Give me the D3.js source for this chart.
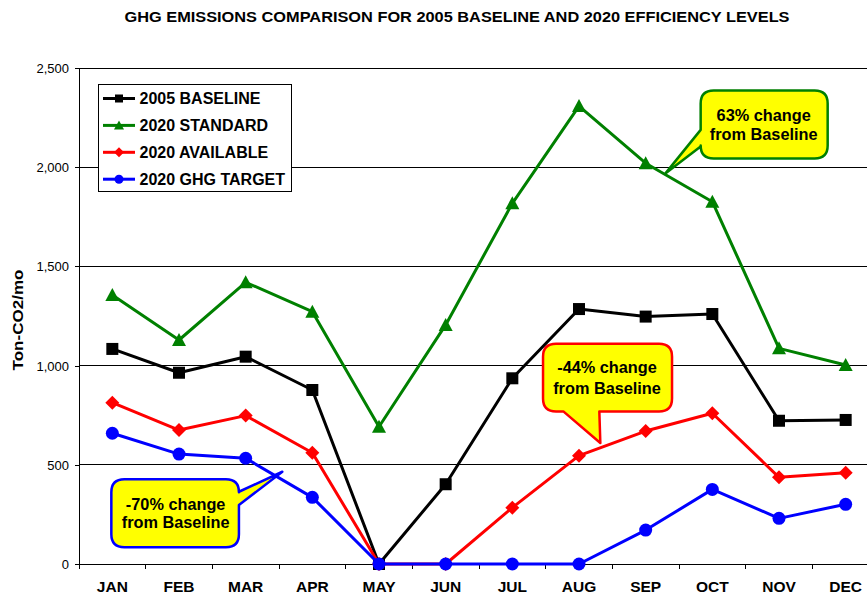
<!DOCTYPE html>
<html><head><meta charset="utf-8">
<script src="https://cdn.jsdelivr.net/npm/d3@7"></script>
<style>
html,body{margin:0;padding:0;background:#fff;overflow:hidden;}
text{font-family:Arial,"Liberation Sans",sans-serif;}
</style></head>
<body><svg id="c" width="867" height="599"></svg>
<script>
const months = ["JAN","FEB","MAR","APR","MAY","JUN","JUL","AUG","SEP","OCT","NOV","DEC"];
const baseline2005 = [1084, 964, 1045, 877, 0, 402, 936, 1285, 1247, 1260, 722, 726];
const standard2020 = [1356, 1129, 1420, 1272, 692, 1205, 1818, 2308, 2020, 1826, 1087, 1003];
const available2020 = [813, 675, 748, 561, 0, 0, 284, 546, 670, 760, 437, 460];
const target2020 = [659, 554, 533, 336, 0, 0, 0, 0, 171, 376, 230, 301];
const yTicks = [0, 500, 1000, 1500, 2000, 2500];
const seriesNames = ["2005 BASELINE","2020 STANDARD","2020 AVAILABLE","2020 GHG TARGET"];
const callouts = [
  {lines:["63% change","from Baseline"], month:8.3, value:1970},
  {lines:["-44% change","from Baseline"], month:7.32, value:610},
  {lines:["-70% change","from Baseline"], month:2.55, value:465}
];

const series = [
  {name:seriesNames[0], values:baseline2005, color:"#000000", marker:"square"},
  {name:seriesNames[1], values:standard2020, color:"#008000", marker:"triangle"},
  {name:seriesNames[2], values:available2020, color:"#ff0000", marker:"diamond"},
  {name:seriesNames[3], values:target2020, color:"#0000ff", marker:"circle"}
];

const svg = d3.select("#c");
const L = 79, R = 879, T = 68, B = 564;
const x = d3.scaleBand().domain(months).range([L, R]).padding(0);
const xc = m => x(m) + x.bandwidth()/2;
const xi = i => x(months[0]) + x.bandwidth()*(i+0.5);
const y = d3.scaleLinear().domain([0, 2500]).range([B, T]);

// title
svg.append("text").attr("x", 457).attr("y", 22).attr("text-anchor","middle")
  .attr("font-weight","bold").attr("font-size", 14).attr("textLength", 665).attr("lengthAdjust","spacingAndGlyphs")
  .text("GHG EMISSIONS COMPARISON FOR 2005 BASELINE AND 2020 EFFICIENCY LEVELS");

// gridlines
svg.append("g").selectAll("line").data(yTicks.filter(d=>d>0)).join("line")
  .attr("x1", L).attr("x2", R).attr("y1", d=>y(d)).attr("y2", d=>y(d))
  .attr("stroke","#000").attr("stroke-width",1).attr("shape-rendering","crispEdges");

// y axis
const yAx = svg.append("g").attr("transform",`translate(${L},0)`)
  .call(d3.axisLeft(y).tickValues(yTicks).tickFormat(d3.format(",")).tickSize(4).tickSizeOuter(0));
yAx.select(".domain").attr("stroke","#000").attr("shape-rendering","crispEdges");
yAx.selectAll("text").attr("font-size",13).attr("font-family","Arial, 'Liberation Sans', sans-serif").attr("fill","#000").attr("x",-10).attr("dy","0.35em");
yAx.selectAll("line").attr("shape-rendering","crispEdges");

// x axis
const xAx = svg.append("g").attr("transform",`translate(0,${B})`)
  .call(d3.axisBottom(x).tickSize(0).tickSizeOuter(0).tickPadding(14));
xAx.select(".domain").attr("stroke","#000").attr("shape-rendering","crispEdges");
xAx.selectAll("text").attr("font-size",15.5).attr("font-weight","bold").attr("font-family","Arial, 'Liberation Sans', sans-serif").attr("fill","#000").attr("dy","0.88em");
svg.append("g").selectAll("line").data(months).join("line")
  .attr("x1", d=>x(d)).attr("x2", d=>x(d)).attr("y1", B).attr("y2", B+5)
  .attr("stroke","#000").attr("shape-rendering","crispEdges");

// y title
svg.append("text").attr("transform",`translate(23,${(T+B)/2+4}) rotate(-90)`)
  .attr("text-anchor","middle").attr("font-weight","bold").attr("font-size",14)
  .attr("textLength",101).attr("lengthAdjust","spacingAndGlyphs").text("Ton-CO2/mo");

function marker(g, type, cx, cy, s, color){
  if(type==="square") g.append("rect").attr("x",cx-s/2).attr("y",cy-s/2).attr("width",s).attr("height",s).attr("fill",color);
  else if(type==="circle") g.append("circle").attr("cx",cx).attr("cy",cy).attr("r",s/2+0.5).attr("fill",color);
  else if(type==="diamond") g.append("path").attr("d",`M${cx},${cy-s/2-1}L${cx+s/2+1},${cy}L${cx},${cy+s/2+1}L${cx-s/2-1},${cy}Z`).attr("fill",color);
  else if(type==="triangle") g.append("path").attr("d",`M${cx},${cy-s/2-1}L${cx+s/2+1},${cy+s/2}L${cx-s/2-1},${cy+s/2}Z`).attr("fill",color);
}

const line = d3.line().x((d,i)=>xc(months[i])).y(d=>y(d));
const plot = svg.append("g");
series.forEach(s=>{
  const g = plot.append("g");
  g.append("path").datum(s.values).attr("d", line).attr("fill","none").attr("stroke", s.color).attr("stroke-width",3).attr("stroke-linejoin","round");
  s.values.forEach((v,i)=> marker(g, s.marker, xc(months[i]), y(v), 12, s.color));
});

// legend
const lg = svg.append("g");
lg.append("rect").attr("x",98.5).attr("y",84.5).attr("width",193).attr("height",107).attr("fill","#fff").attr("stroke","#000").attr("stroke-width",1);
series.forEach((s,i)=>{
  const cy = 98.5 + i*26.9;
  lg.append("line").attr("x1",103).attr("x2",135).attr("y1",cy).attr("y2",cy).attr("stroke",s.color).attr("stroke-width",3);
  marker(lg, s.marker, 119, cy, 8, s.color);
  lg.append("text").attr("x",139.5).attr("y",cy).attr("dy","0.36em").attr("font-weight","bold").attr("font-size",16).text(s.name);
});

// callouts
function calloutPath(bx, by, bw, bh, r, side, a, b, tx, ty){
  const x0=bx, y0=by, x1=bx+bw, y1=by+bh;
  let p = `M${x0+r},${y0}L${x1-r},${y0}Q${x1},${y0} ${x1},${y0+r}`;
  if(side==="right") p += `L${x1},${a}L${tx},${ty}L${x1},${b}`;
  p += `L${x1},${y1-r}Q${x1},${y1} ${x1-r},${y1}`;
  if(side==="bottom") p += `L${b},${y1}L${tx},${ty}L${a},${y1}`;
  p += `L${x0+r},${y1}Q${x0},${y1} ${x0},${y1-r}`;
  if(side==="left") p += `L${x0},${b}L${tx},${ty}L${x0},${a}`;
  p += `L${x0},${y0+r}Q${x0},${y0} ${x0+r},${y0}Z`;
  return p;
}
const cfg = [
  {color:"#008000", dx:35, dy:-82.7, w:127, h:68, side:"left", a:-43.3, b:-26.7, cx:98, l1:-52.3, l2:-32.7},
  {color:"#ff0000", dx:-57.3, dy:-99.3, w:129, h:67.7, side:"bottom", a:-37, b:-1, cx:6.7, l1:-69.7, l2:-49},
  {color:"#0000ff", dx:-171, dy:7.6, w:127.6, h:68, side:"right", a:20, b:33.3, cx:-106.7, l1:38.3, l2:56.6}
];
callouts.forEach((c,i)=>{
  const k = cfg[i];
  const tx = xi(c.month), ty = y(c.value);
  const bx = tx + k.dx, by = ty + k.dy;
  let a, b;
  if(k.side==="bottom"){ a = tx + k.a; b = tx + k.b; }
  else { a = ty + k.a; b = ty + k.b; }
  const g = svg.append("g");
  g.append("path").attr("d", calloutPath(bx, by, k.w, k.h, 13, k.side, a, b, tx, ty))
    .attr("fill","#ffff00").attr("stroke",k.color).attr("stroke-width",2.5).attr("stroke-linejoin","round");
  g.append("text").attr("x",tx+k.cx).attr("y",ty+k.l1).attr("text-anchor","middle").attr("font-weight","bold").attr("font-size",16.3).text(c.lines[0]);
  g.append("text").attr("x",tx+k.cx).attr("y",ty+k.l2).attr("text-anchor","middle").attr("font-weight","bold").attr("font-size",16.3).text(c.lines[1]);
});
</script></body></html>
